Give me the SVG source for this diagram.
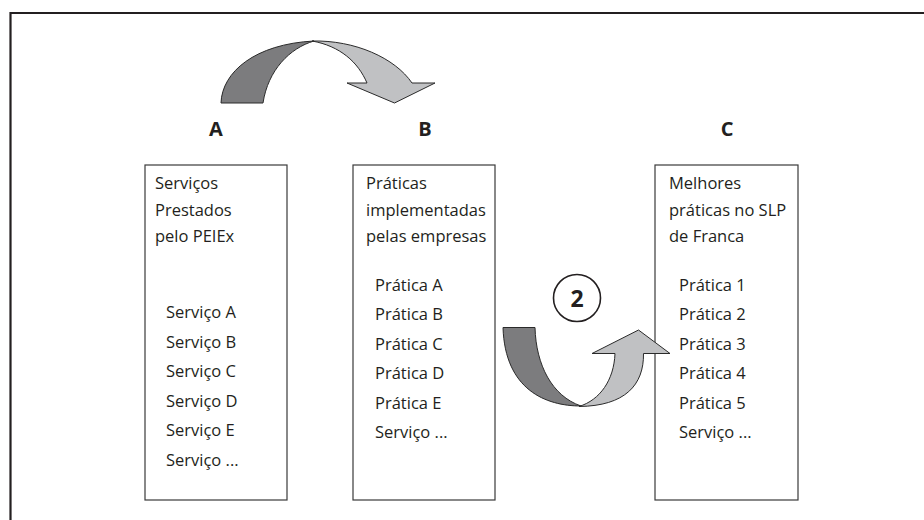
<svg xmlns="http://www.w3.org/2000/svg" width="924" height="520" viewBox="0 0 924 520">
<style>
.frame{fill:none;stroke:#231f20;stroke-width:2.2}
.box{fill:#fff;stroke:#3a3a3a;stroke-width:1.2}
.t{font-family:"Open Sans","Noto Sans",sans-serif;font-size:16.5px;fill:#231f20}
.h{font-family:"Open Sans","Noto Sans",sans-serif;font-size:20px;font-weight:bold;fill:#231f20;text-anchor:middle}
.dark{fill:#7c7c7e;stroke:#2a2a2a;stroke-width:1;stroke-linejoin:miter}
.light{fill:#c0c1c3;stroke:#2a2a2a;stroke-width:1;stroke-linejoin:miter}
.circ{fill:#fff;stroke:#231f20;stroke-width:1.6}
</style>
<rect width="924" height="520" fill="#fff"/>
<path class="frame" d="M10.5,560 V13 H960"/>

<g id="label-A"><text class="h" x="216" y="136">A</text></g>
<g id="label-B"><text class="h" x="425" y="136">B</text></g>
<g id="label-C"><text class="h" x="727" y="136">C</text></g>

<g id="node-A">
<rect class="box" x="145" y="165" width="142" height="335"/>
<text class="t" x="155" y="189">Serviços</text>
<text class="t" x="155" y="215.5">Prestados</text>
<text class="t" x="155" y="242">pelo PEIEx</text>
<text class="t" x="166" y="318">Serviço A</text>
<text class="t" x="166" y="347.5">Serviço B</text>
<text class="t" x="166" y="377">Serviço C</text>
<text class="t" x="166" y="406.5">Serviço D</text>
<text class="t" x="166" y="436">Serviço E</text>
<text class="t" x="166" y="465.5">Serviço ...</text>
</g>

<g id="node-B">
<rect class="box" x="353" y="165" width="142" height="335"/>
<text class="t" x="366" y="189">Práticas</text>
<text class="t" x="366" y="215.5">implementadas</text>
<text class="t" x="366" y="242">pelas empresas</text>
<text class="t" x="375" y="290.5">Prática A</text>
<text class="t" x="375" y="320">Prática B</text>
<text class="t" x="375" y="349.5">Prática C</text>
<text class="t" x="375" y="379">Prática D</text>
<text class="t" x="375" y="408.5">Prática E</text>
<text class="t" x="375" y="438">Serviço ...</text>
</g>

<g id="node-C">
<rect class="box" x="655" y="165" width="143" height="335"/>
<text class="t" x="669" y="189">Melhores</text>
<text class="t" x="669" y="215.5">práticas no SLP</text>
<text class="t" x="669" y="242">de Franca</text>
<text class="t" x="679" y="290.5">Prática 1</text>
<text class="t" x="679" y="320">Prática 2</text>
<text class="t" x="679" y="349.5">Prática 3</text>
<text class="t" x="679" y="379">Prática 4</text>
<text class="t" x="679" y="408.5">Prática 5</text>
<text class="t" x="679" y="438">Serviço ...</text>
</g>

<g id="connectors">
<g id="arrow-1">
<path class="dark" d="M221,103 C222,72 255,44 314,41 C290,48 268,70 263,103 Z"/>
<path class="light" d="M312,41 C355,40 395,58 412,83 L435,83 L394.5,103 L347,83 L367,83 C358,62 340,46 312,41 Z"/>
</g>
<g id="arrow-2">
<path class="dark" d="M503,327.5 L535,327.5 C536,365 552,396 581,406 C546,406 505,390 503,327.5 Z"/>
<path class="light" d="M579,406.5 C625,406 644,385 643.5,353.5 L670,353.5 L638.5,330 L592,353.5 L615,353.5 C614,380 600,400 579,406.5 Z"/>
</g>
<g id="badge-2">
<circle class="circ" cx="577" cy="298" r="23.5"/>
<text class="h" x="577" y="306.5" style="font-size:23px">2</text>
</g>
</g>
</svg>
